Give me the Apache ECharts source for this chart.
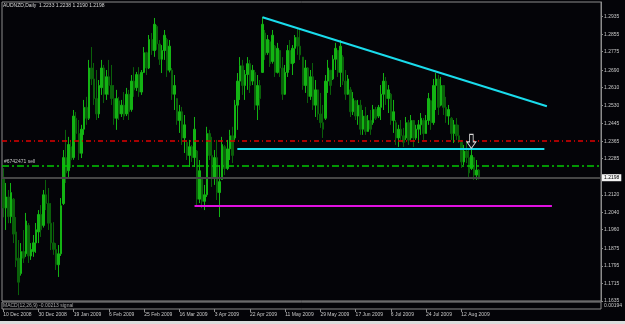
<!DOCTYPE html>
<html>
<head>
<meta charset="utf-8">
<title>AUDNZD,Daily</title>
<script src="https://cdn.jsdelivr.net/npm/echarts@6/dist/echarts.min.js"></script>
<style>
    html, body { margin: 0; padding: 0; background: #040408; }
    #chart { width: 625px; height: 324px; }
</style>
</head>
<body>
<div id="chart"></div>
<script>
    // daily bars, [open, high, low, close]
    const ohlc = [
        [1.2200,1.2242,1.2017,1.2060],[1.2060,1.2174,1.1959,1.2110],[1.2110,1.2142,1.1990,1.2020],[1.2020,1.2174,1.1990,1.2130],
        [1.2100,1.2105,1.1899,1.1940],[1.1950,1.2018,1.1789,1.1820],[1.1830,1.1913,1.1661,1.1720],[1.1760,1.1899,1.1750,1.1860],
        [1.1860,1.1959,1.1808,1.1830],[1.1850,1.2037,1.1836,1.2000],[1.1980,1.1991,1.1808,1.1840],[1.1840,1.1899,1.1822,1.1870],
        [1.1860,1.1936,1.1836,1.1900],[1.1900,1.1991,1.1854,1.1960],[1.1950,1.2050,1.1899,1.2030],[1.2030,1.2073,1.1927,1.1960],
        [1.1980,1.2142,1.1970,1.2120],[1.2120,1.2188,1.2050,1.2080],[1.2080,1.2151,1.1959,1.1990],[1.1990,1.2082,1.1867,1.1900],
        [1.1900,1.1995,1.1845,1.1870],[1.1870,1.1899,1.1776,1.1800],[1.1800,1.1890,1.1744,1.1850],[1.1850,1.2105,1.1840,1.2070],
        [1.2080,1.2325,1.2073,1.2290],[1.2290,1.2417,1.2174,1.2220],[1.2230,1.2385,1.2200,1.2350],[1.2340,1.2371,1.2243,1.2280],
        [1.2290,1.2508,1.2280,1.2480],[1.2470,1.2499,1.2371,1.2400],[1.2400,1.2462,1.2279,1.2310],[1.2310,1.2440,1.2288,1.2420],
        [1.2420,1.2554,1.2394,1.2520],[1.2520,1.2568,1.2440,1.2470],[1.2470,1.2737,1.2462,1.2700],[1.2700,1.2796,1.2622,1.2650],
        [1.2650,1.2723,1.2531,1.2560],[1.2560,1.2691,1.2462,1.2490],[1.2490,1.2645,1.2471,1.2620],[1.2610,1.2737,1.2577,1.2700],
        [1.2700,1.2714,1.2540,1.2580],[1.2580,1.2691,1.2554,1.2660],[1.2660,1.2737,1.2577,1.2620],[1.2620,1.2714,1.2531,1.2560],
        [1.2560,1.2622,1.2440,1.2470],[1.2470,1.2600,1.2417,1.2560],[1.2550,1.2568,1.2462,1.2490],[1.2490,1.2554,1.2476,1.2530],
        [1.2530,1.2590,1.2462,1.2480],[1.2490,1.2609,1.2480,1.2580],[1.2580,1.2600,1.2462,1.2500],[1.2510,1.2668,1.2500,1.2640],
        [1.2640,1.2704,1.2568,1.2600],[1.2610,1.2682,1.2595,1.2670],[1.2670,1.2704,1.2568,1.2590],[1.2590,1.2691,1.2577,1.2680],
        [1.2680,1.2796,1.2677,1.2770],[1.2770,1.2774,1.2668,1.2700],[1.2700,1.2851,1.2695,1.2830],[1.2830,1.2860,1.2760,1.2780],
        [1.2780,1.2929,1.2751,1.2900],[1.2890,1.2897,1.2783,1.2810],[1.2810,1.2828,1.2714,1.2740],[1.2740,1.2805,1.2677,1.2780],
        [1.2780,1.2874,1.2737,1.2850],[1.2830,1.2838,1.2659,1.2690],[1.2690,1.2828,1.2680,1.2800],[1.2690,1.2700,1.2554,1.2580],
        [1.2580,1.2668,1.2508,1.2620],[1.2560,1.2563,1.2440,1.2460],[1.2460,1.2531,1.2403,1.2500],[1.2500,1.2522,1.2348,1.2380],
        [1.2380,1.2485,1.2311,1.2440],[1.2360,1.2371,1.2279,1.2300],[1.2300,1.2371,1.2247,1.2340],[1.2340,1.2348,1.2270,1.2290],
        [1.2290,1.2476,1.2247,1.2420],[1.2320,1.2325,1.2073,1.2100],[1.2100,1.2279,1.2082,1.2230],[1.2200,1.2201,1.2059,1.2090],
        [1.2090,1.2165,1.2050,1.2120],[1.2120,1.2431,1.2110,1.2400],[1.2400,1.2417,1.2279,1.2300],[1.2300,1.2385,1.2156,1.2200],
        [1.2200,1.2325,1.2165,1.2290],[1.2290,1.2371,1.2096,1.2130],[1.2130,1.2256,1.2018,1.2180],[1.2190,1.2385,1.2188,1.2350],
        [1.2340,1.2348,1.2210,1.2240],[1.2240,1.2371,1.2233,1.2330],[1.2330,1.2417,1.2279,1.2390],[1.2390,1.2431,1.2265,1.2300],
        [1.2380,1.2554,1.2371,1.2530],[1.2530,1.2677,1.2417,1.2640],[1.2640,1.2750,1.2554,1.2710],[1.2710,1.2737,1.2577,1.2620],
        [1.2620,1.2691,1.2554,1.2670],[1.2670,1.2750,1.2600,1.2720],[1.2720,1.2737,1.2586,1.2620],[1.2640,1.2714,1.2622,1.2690],
        [1.2680,1.2691,1.2508,1.2530],[1.2530,1.2668,1.2462,1.2620],[1.2620,1.2645,1.2508,1.2560],[1.2680,1.2934,1.2677,1.2900],
        [1.2860,1.2874,1.2737,1.2760],[1.2770,1.2851,1.2760,1.2830],[1.2820,1.2828,1.2705,1.2720],[1.2730,1.2874,1.2720,1.2850],
        [1.2800,1.2805,1.2659,1.2680],[1.2680,1.2815,1.2675,1.2790],[1.2780,1.2783,1.2659,1.2700],[1.2700,1.2750,1.2554,1.2580],
        [1.2580,1.2714,1.2577,1.2680],[1.2680,1.2805,1.2659,1.2780],[1.2780,1.2828,1.2691,1.2720],[1.2720,1.2805,1.2668,1.2790],
        [1.2790,1.2851,1.2723,1.2840],[1.2840,1.2883,1.2760,1.2800],[1.2800,1.2874,1.2737,1.2760],[1.2750,1.2750,1.2600,1.2620],
        [1.2620,1.2737,1.2586,1.2700],[1.2700,1.2704,1.2540,1.2570],[1.2570,1.2691,1.2554,1.2660],[1.2660,1.2723,1.2508,1.2530],
        [1.2530,1.2645,1.2476,1.2600],[1.2600,1.2600,1.2462,1.2490],[1.2490,1.2586,1.2426,1.2450],[1.2450,1.2531,1.2380,1.2420],
        [1.2470,1.2668,1.2462,1.2640],[1.2640,1.2737,1.2586,1.2700],[1.2690,1.2691,1.2577,1.2620],[1.2650,1.2759,1.2645,1.2740],
        [1.2740,1.2815,1.2691,1.2790],[1.2780,1.2783,1.2659,1.2680],[1.2680,1.2828,1.2613,1.2800],[1.2750,1.2759,1.2622,1.2640],
        [1.2640,1.2691,1.2554,1.2580],[1.2580,1.2668,1.2577,1.2650],[1.2600,1.2613,1.2476,1.2500],[1.2500,1.2590,1.2485,1.2560],
        [1.2550,1.2554,1.2462,1.2480],[1.2480,1.2554,1.2440,1.2530],[1.2530,1.2554,1.2394,1.2420],[1.2420,1.2508,1.2394,1.2480],
        [1.2480,1.2522,1.2394,1.2410],[1.2410,1.2485,1.2408,1.2460],[1.2460,1.2508,1.2394,1.2420],[1.2450,1.2531,1.2440,1.2510],
        [1.2510,1.2522,1.2462,1.2470],[1.2480,1.2531,1.2471,1.2520],[1.2520,1.2622,1.2462,1.2580],[1.2580,1.2677,1.2508,1.2640],
        [1.2640,1.2659,1.2531,1.2560],[1.2560,1.2622,1.2494,1.2600],[1.2580,1.2586,1.2440,1.2460],[1.2460,1.2554,1.2403,1.2500],
        [1.2450,1.2462,1.2348,1.2380],[1.2380,1.2440,1.2339,1.2420],[1.2420,1.2462,1.2371,1.2390],[1.2390,1.2426,1.2339,1.2360],
        [1.2380,1.2476,1.2371,1.2450],[1.2450,1.2462,1.2348,1.2370],[1.2380,1.2485,1.2371,1.2460],[1.2460,1.2462,1.2339,1.2380],
        [1.2380,1.2440,1.2371,1.2420],[1.2420,1.2462,1.2357,1.2440],[1.2440,1.2494,1.2394,1.2470],[1.2460,1.2471,1.2371,1.2400],
        [1.2400,1.2485,1.2400,1.2460],[1.2460,1.2586,1.2440,1.2560],[1.2550,1.2554,1.2417,1.2450],[1.2450,1.2650,1.2440,1.2620],
        [1.2620,1.2677,1.2508,1.2650],[1.2650,1.2668,1.2485,1.2520],[1.2530,1.2659,1.2525,1.2620],[1.2620,1.2622,1.2485,1.2520],
        [1.2520,1.2568,1.2449,1.2480],[1.2480,1.2531,1.2440,1.2510],[1.2470,1.2476,1.2371,1.2400],[1.2400,1.2462,1.2357,1.2440],
        [1.2440,1.2471,1.2371,1.2390],[1.2390,1.2440,1.2357,1.2370],[1.2360,1.2371,1.2243,1.2270],[1.2270,1.2348,1.2256,1.2320],
        [1.2320,1.2362,1.2265,1.2290],[1.2290,1.2325,1.2201,1.2220],[1.2240,1.2334,1.2233,1.2300],[1.2290,1.2293,1.2188,1.2210],
        [1.2210,1.2279,1.2188,1.2233],[1.2233,1.2238,1.2190,1.2198]
    ];

    // time scale labels, one every 14 bars
    const xTicks = ['10 Dec 2008', '30 Dec 2008', '19 Jan 2009', '6 Feb 2009', '25 Feb 2009', '16 Mar 2009', '3 Apr 2009',
        '22 Apr 2009', '11 May 2009', '29 May 2009', '17 Jun 2009', '6 Jul 2009', '24 Jul 2009', '12 Aug 2009'];

    // right-hand price scale labels
    const yTicks = [1.2935, 1.2855, 1.2775, 1.2690, 1.2610, 1.2530, 1.2445, 1.2365, 1.2285,
        1.2205, 1.2120, 1.2040, 1.1960, 1.1875, 1.1795, 1.1715, 1.1635];

    // horizontal levels and drawn objects, [bar index, price]
    const redLevel = 1.2365;
    const sellLevel = 1.2253;
    const sellText = '#6742471 sell';
    const supportLine = [[93, 1.2330], [215, 1.2330]];
    const trendLine = [[103, 1.2932], [216, 1.2525]];
    const floorLine = [[76, 1.2069], [218, 1.2069]];
    const arrowAt = [186, 1.2364];

    const slots = 238;
    const labelStep = 14;
    const cats = [];
    for (let i = 0; i < slots; i++) cats.push(String(i));

    const last = ohlc[ohlc.length - 1];
    const bid = last[3];
    const fontFamily = 'Liberation Sans, Arial, sans-serif';
    const frameColor = '#8c8c8c';
    const textColor = '#c8c8c8';

    const showDate = (index) => index % labelStep === 0 && index / labelStep < xTicks.length;
    const seg = (pts, style) => [
        {coord: [cats[pts[0][0]], pts[0][1]], lineStyle: style},
        {coord: [cats[pts[1][0]], pts[1][1]], lineStyle: style}
    ];

    const myChart = echarts.init(document.getElementById('chart'));
    const option = {
        animation: false,
        backgroundColor: '#040408',
        textStyle: {fontFamily: fontFamily},
        title: {
            text: 'AUDNZD,Daily  ' + last.map(v => v.toFixed(4)).join(' '),
            left: 3, top: 3, padding: 0,
            textStyle: {fontSize: 5, color: '#d8d8d8', fontWeight: 'normal', fontFamily: fontFamily}
        },
        grid: [
            {left: 2, right: 24, top: 2, bottom: 23, show: true, borderColor: frameColor, borderWidth: 1},
            {left: 2, right: 24, top: 302, height: 7, show: true, borderColor: frameColor, borderWidth: 1}
        ],
        xAxis: [
            {
                type: 'category', gridIndex: 0, data: cats, boundaryGap: true,
                axisLine: {show: false}, axisTick: {show: false}, axisLabel: {show: false}, splitLine: {show: false}
            },
            {
                type: 'category', gridIndex: 1, data: cats, boundaryGap: true,
                axisLine: {show: false},
                axisTick: {show: true, alignWithLabel: true, length: 3, interval: showDate, lineStyle: {color: frameColor}},
                axisLabel: {
                    interval: showDate, align: 'left', margin: 3, fontSize: 5, color: textColor,
                    formatter: (v, idx) => xTicks[idx / labelStep] || ''
                },
                splitLine: {show: false}
            }
        ],
        yAxis: [
            {
                type: 'value', gridIndex: 0, position: 'right', min: 1.1634, max: 1.3002,
                axisLine: {show: true, lineStyle: {color: frameColor}},
                axisTick: {show: true, length: 2, customValues: yTicks, lineStyle: {color: frameColor}},
                axisLabel: {customValues: yTicks, formatter: v => v.toFixed(4), fontSize: 5, color: textColor, margin: 3},
                splitLine: {show: false}
            },
            {type: 'value', gridIndex: 1, show: false}
        ],
        series: [{
            type: 'candlestick',
            xAxisIndex: 0, yAxisIndex: 0,
            barWidth: 2,
            data: ohlc.map(b => [b[0], b[3], b[2], b[1]]),
            itemStyle: {
                color: '#13b313', color0: '#0a600a',
                borderColor: '#13b313', borderColor0: '#0a600a', borderWidth: 1
            },
            markLine: {
                silent: true,
                precision: 4,   // default 2 would round the levels
                symbol: ['none', 'none'],
                label: {show: false},
                data: [
                    {yAxis: redLevel, lineStyle: {color: '#e00000', width: 1.5, type: [5, 3, 1, 3]}},
                    {
                        yAxis: sellLevel, lineStyle: {color: '#00c800', width: 1.5, type: [7, 3, 2, 3]},
                        label: {show: true, position: 'insideStartTop', formatter: sellText, fontSize: 5, color: textColor, distance: 2}
                    },
                    {
                        yAxis: bid, lineStyle: {color: '#464646', width: 2, type: 'solid'},
                        label: {
                            show: true, position: 'end', formatter: bid.toFixed(4), distance: 1,
                            fontSize: 5, color: '#000', backgroundColor: '#f4f4f4', padding: [1, 2]
                        }
                    },
                    seg(supportLine, {color: '#1adcec', width: 2, type: 'solid'}),
                    seg(trendLine, {color: '#1adcec', width: 2, type: 'solid'}),
                    seg(floorLine, {color: '#e010e0', width: 2, type: 'solid'})
                ]
            },
            markPoint: {
                silent: true,
                label: {show: false},
                data: [{
                    coord: [cats[arrowAt[0]], arrowAt[1]],
                    symbol: 'path://M3,0 L7,0 L7,7 L10,7 L5,13 L0,7 L3,7 Z',
                    symbolSize: [9, 14],
                    itemStyle: {color: '#101014', borderColor: '#d8d8d8', borderWidth: 1}
                }]
            }
        }],
        graphic: [
            {
                type: 'text', left: 3, top: 303,
                style: {text: 'MACD(12,26,9) -0.00213 signal', fontSize: 5, fill: '#a8a8a8', fontFamily: fontFamily}
            },
            {
                type: 'text', left: 604, top: 303,
                style: {text: '0.00194', fontSize: 5, fill: textColor, fontFamily: fontFamily}
            },
            {
                type: 'rect', left: 0, top: 321,
                shape: {width: 625, height: 3},
                style: {fill: '#dcdcdc'}
            }
        ]
    };
    myChart.setOption(option);
</script>
</body>
</html>
